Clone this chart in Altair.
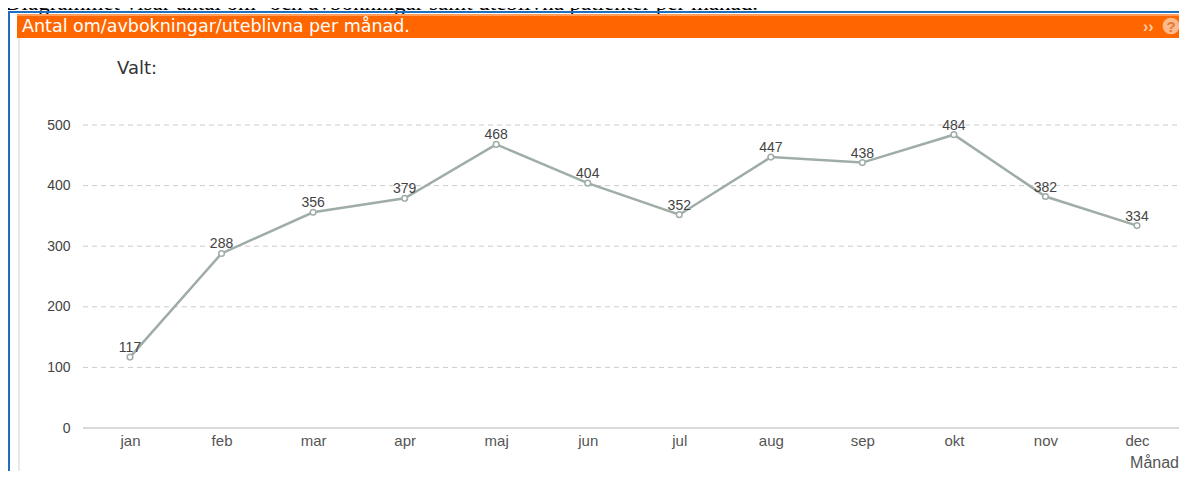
import altair as alt
import pandas as pd

months = ["jan", "feb", "mar", "apr", "maj", "jun", "jul", "aug", "sep", "okt", "nov", "dec"]
values = [117, 288, 356, 379, 468, 404, 352, 447, 438, 484, 382, 334]
y_ticks = [0, 100, 200, 300, 400, 500]
grid_ticks = [100, 200, 300, 400, 500]

page_text = "Diagrammet visar antal om- och avbokningar samt uteblivna patienter per månad."
panel_title = "Antal om/avbokningar/uteblivna per månad."
selected_label = "Valt:"
x_title = "Månad"

df = pd.DataFrame({"month": months, "value": values})
grid_df = pd.DataFrame({"value": grid_ticks})
one = pd.DataFrame({"k": [0]})

W, H = 1096, 303
y_scale = alt.Scale(domain=[0, 500], nice=False, zero=True)

x_enc = alt.X("month:N", sort=months,
              scale=alt.Scale(type="point", range=[47, 1054], padding=0),
              axis=alt.Axis(title=None, labelAngle=0, ticks=False, domain=False, grid=False,
                            labelFontSize=15, labelColor="#555555", labelPadding=5,
                            labelFont="Liberation Sans"))
y_enc = alt.Y("value:Q", scale=y_scale,
              axis=alt.Axis(title=None, values=y_ticks, ticks=False, domain=False, grid=False,
                            labelFontSize=14, labelColor="#444444", labelPadding=13,
                            labelFont="Liberation Sans"))

base = alt.Chart(df)

grid = alt.Chart(grid_df).mark_rule(color="#cccccc", strokeWidth=1, strokeDash=[5, 4]).encode(
    y=y_enc, x=alt.value(0), x2=alt.value(W))
zero_line = alt.Chart(one).mark_rule(color="#cccccc", strokeWidth=1.5).encode(
    x=alt.value(0), x2=alt.value(W), y=alt.datum(0))

line = base.mark_line(color="#9fada6", strokeWidth=2.5).encode(x=x_enc, y=y_enc)
points = base.mark_point(shape="circle", size=32, fill="white", stroke="#9fada6",
                         strokeWidth=1.5, opacity=1).encode(x=x_enc, y=y_enc)
labels = base.mark_text(fontSize=14, color="#444444", baseline="alphabetic", dy=-5,
                        font="Liberation Sans").encode(x=x_enc, y=y_enc, text="value:Q")

deco = alt.Chart(one)
page_txt = deco.mark_text(text=page_text, color="black", fontSize=23, align="left",
                          baseline="alphabetic", font="Liberation Serif").encode(
    x=alt.value(-78), y=alt.value(-115))
blue_top = deco.mark_rect(color="#1f6fc0").encode(
    x=alt.value(-75), x2=alt.value(1104), y=alt.value(-114), y2=alt.value(-112))
blue_left = deco.mark_rect(color="#1f6fc0").encode(
    x=alt.value(-75), x2=alt.value(-73), y=alt.value(-114), y2=alt.value(360))
panel_left = deco.mark_rect(color="#e8e8e8").encode(
    x=alt.value(-65), x2=alt.value(-63), y=alt.value(-87), y2=alt.value(360))
orange = deco.mark_rect(color="#ff6600").encode(
    x=alt.value(-66), x2=alt.value(1104), y=alt.value(-111), y2=alt.value(-87))
orange_hi = deco.mark_rect(color="#ff9d5c").encode(
    x=alt.value(-66), x2=alt.value(1104), y=alt.value(-111), y2=alt.value(-109))
title_txt = deco.mark_text(text=panel_title, color="white", fontSize=17.5, align="left",
                           baseline="alphabetic", font="DejaVu Sans").encode(
    x=alt.value(-61), y=alt.value(-93))
arrows = deco.mark_text(text="››", color="#ffc9a3", fontSize=16, align="left",
                        baseline="alphabetic", font="Liberation Sans", fontWeight="bold").encode(
    x=alt.value(1060), y=alt.value(-93))
help_circle = deco.mark_point(shape="circle", size=280, filled=True, color="#ffb98a",
                              opacity=1).encode(x=alt.value(1088), y=alt.value(-99))
help_q = deco.mark_text(text="?", color="#e07a3a", fontSize=15, align="center",
                        baseline="middle", font="Liberation Sans", fontWeight="bold").encode(
    x=alt.value(1088), y=alt.value(-98))
valt = deco.mark_text(text=selected_label, color="#333333", fontSize=18, align="left",
                      baseline="alphabetic", font="DejaVu Sans").encode(
    x=alt.value(34), y=alt.value(-51))
xtitle = deco.mark_text(text=x_title, color="#555555", fontSize=16, align="right",
                        baseline="alphabetic", font="Liberation Sans").encode(
    x=alt.value(1096), y=alt.value(343))

chart = alt.layer(
    page_txt, blue_top, blue_left, panel_left, orange, orange_hi, title_txt, arrows,
    help_circle, help_q, valt, xtitle, grid, zero_line, line, points, labels
).properties(
    width=W, height=H,
    autosize=alt.AutoSizeParams(type="none"),
    padding={"left": 75, "top": 117, "right": 0, "bottom": 43},
    background="white",
).configure_view(stroke=None)

chart.save("out.html", embed_options={"renderer": "svg", "actions": False})
